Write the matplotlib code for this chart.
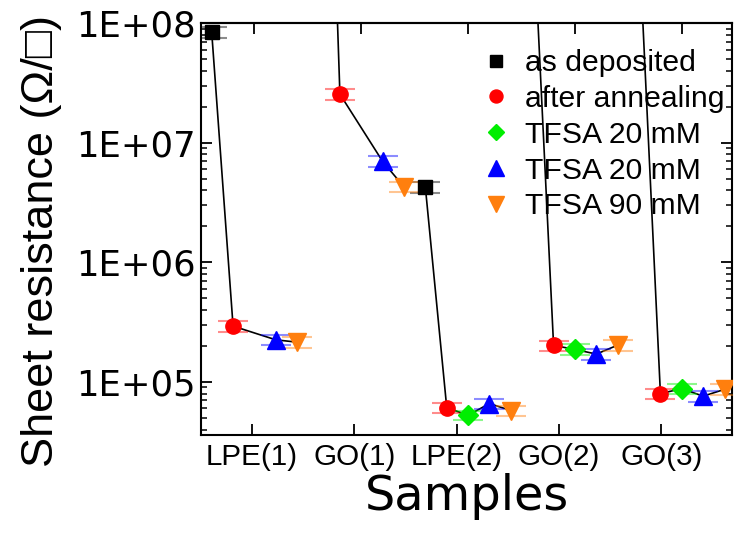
import numpy as np
import matplotlib
matplotlib.use('Agg')
import matplotlib.pyplot as plt

plt.rcParams['font.family'] = ['Liberation Sans', 'DejaVu Sans']

samples = ['LPE(1)', 'GO(1)', 'LPE(2)', 'GO(2)', 'GO(3)']
labels = ['as deposited', 'after annealing', 'TFSA 20 mM', 'TFSA 20 mM', 'TFSA 90 mM']

# sheet resistance (Ohm/sq) per sample, nan = not measured
as_deposited = [8.4e7, 5e12, 4.24e6, 1.0e9, 4.8e8]
after_annealing = [2.93e5, 2.55e7, 6.1e4, 2.02e5, 7.98e4]
tfsa20_a = [np.nan, np.nan, 5.26e4, 1.87e5, 8.8e4]
tfsa20_b = [2.25e5, 6.98e6, 6.6e4, 1.71e5, 7.6e4]
tfsa90 = [2.15e5, 4.27e6, 5.76e4, 2.03e5, 8.67e4]

err_as_deposited = [8.4e6, 5e11, 4.5e5, 1.0e8, 4.8e7]
err_after_annealing = [3.0e4, 2.6e6, 6.0e3, 2.0e4, 8.0e3]
err_tfsa20_a = [np.nan, np.nan, 5.0e3, 1.9e4, 9.0e3]
err_tfsa20_b = [2.2e4, 7.0e5, 6.5e3, 1.7e4, 7.5e3]
err_tfsa90 = [2.2e4, 4.3e5, 5.8e3, 2.0e4, 8.5e3]

series = [as_deposited, after_annealing, tfsa20_a, tfsa20_b, tfsa90]
errors = [err_as_deposited, err_after_annealing, err_tfsa20_a, err_tfsa20_b, err_tfsa90]
markers = ['s', 'o', 'D', '^', 'v']
colors = ['black', 'red', '#00ee00', 'blue', '#ff7f0e']
sizes = [10, 11, 10, 13, 13]

n_s = len(samples)
n_t = len(series)

fig = plt.figure(figsize=(7.35, 5.34), dpi=100)
ax = fig.add_axes([0.2735, 0.1854, 0.9959 - 0.2735, 0.9566 - 0.1854])

# connecting line inside each sample
for s in range(n_s):
    xs, ys = [], []
    for t in range(n_t):
        v = series[t][s]
        if not np.isnan(v):
            xs.append(s * n_t + t)
            ys.append(v)
    ax.plot(xs, ys, color='black', lw=1.2, zorder=1)

for t in range(n_t):
    x = np.arange(n_s) * n_t + t
    ax.errorbar(x, series[t], yerr=errors[t], fmt=markers[t], color=colors[t],
                ms=sizes[t], mec=colors[t], ecolor=matplotlib.colors.to_rgba(colors[t], 0.45),
                elinewidth=1.5, capsize=11, capthick=1.5, zorder=3, label=labels[t])

ax.set_yscale('log')
ax.set_ylim(3.6e4, 1e8)
ax.set_xlim(-0.5, 24.35)

ax.set_xticks([1.88, 6.68, 11.47, 16.26, 21.05])
ax.set_xticklabels(samples, fontsize=21.3)
ax.set_yticks([1e5, 1e6, 1e7, 1e8])
ax.set_yticklabels(['1E+05', '1E+06', '1E+07', '1E+08'], fontsize=25.5, family='DejaVu Sans')
ax.tick_params(axis='both', which='major', direction='in', length=8, width=1.3)
ax.tick_params(axis='y', which='both', direction='in', right=True)
ax.tick_params(axis='y', which='minor', length=4.5, width=1.1)
ax.tick_params(axis='x', which='major', pad=6)
ax.tick_params(axis='y', which='major', pad=4)

top = ax.secondary_xaxis('top')
top.set_xticks([2, 7, 12, 17, 22])
top.tick_params(direction='in', length=8, width=1.3, labeltop=False)

for sp in ax.spines.values():
    sp.set_linewidth(1.5)
top.spines['top'].set_linewidth(1.5)

ax.set_xlabel('Samples', fontsize=34.5, family='DejaVu Sans', labelpad=1)
ax.set_ylabel('Sheet resistance (\u03a9/\u25a1)', fontsize=32.5)
ax.yaxis.set_label_coords(-0.262, 0.47)

handles, labs = ax.get_legend_handles_labels()
handles = [h[0] for h in handles]
ax.legend(handles, labs, loc='upper left', bbox_to_anchor=(0.528, 0.937), frameon=False,
          fontsize=21.7, handlelength=1.0, handletextpad=0.45, labelspacing=0.26,
          borderaxespad=0.0, borderpad=0.0, markerscale=0.85)

fig.savefig('out.png', dpi=100)
